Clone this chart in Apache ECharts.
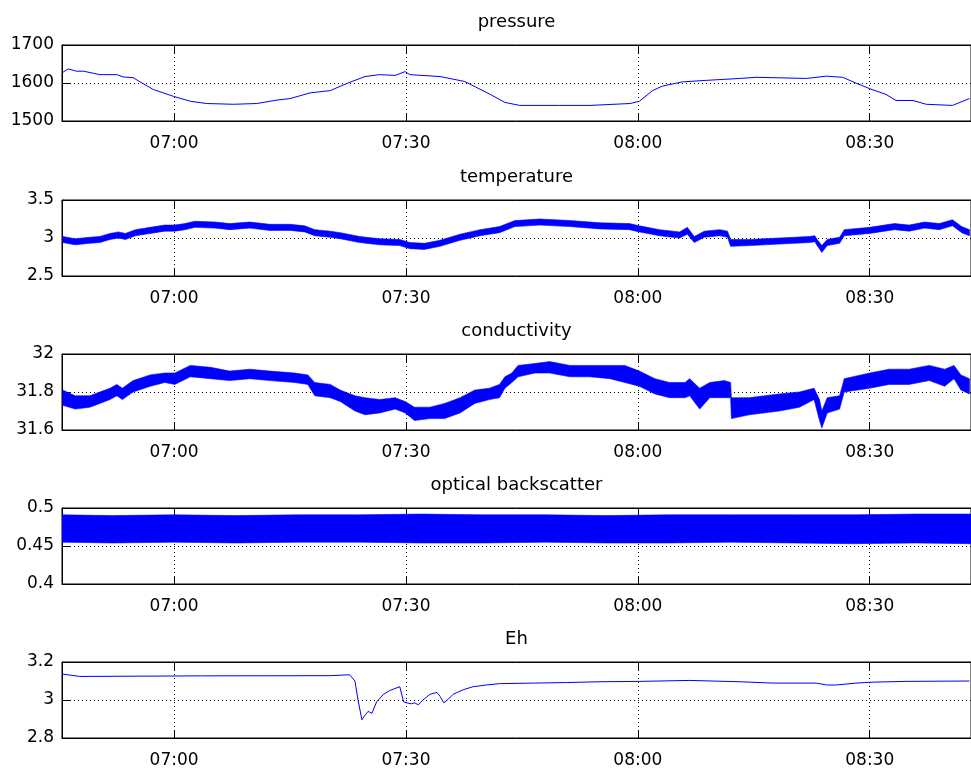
<!DOCTYPE html>
<html><head><meta charset="utf-8">
<script src="https://cdn.jsdelivr.net/npm/echarts@6/dist/echarts.min.js"></script>
<style>html,body{margin:0;padding:0;background:#fff}#c{width:971px;height:772px}</style>
</head><body><div id="c"></div>
<script>
// ---- data (time in minutes since midnight) ----
const xTickLabels = ['07:00', '07:30', '08:00', '08:30'];
const panelTitles = ['pressure', 'temperature', 'conductivity', 'optical backscatter', 'Eh'];

const pressureTime = [405.6, 406.3, 407.4, 408.3, 410.4, 412.6, 413.4, 414.7, 415.6, 417.3, 419.9, 422.1, 424.2, 427.7, 430.7, 433.3, 435.0, 437.6, 440.2, 442.5, 444.7, 446.6, 448.6, 449.9, 450.5, 454.4, 457.6, 460.9, 462.8, 464.7, 469.9, 473.8, 479.0, 480.2, 481.9, 483.2, 485.8, 488.9, 493.2, 495.3, 501.8, 504.4, 506.5, 508.2, 510.0, 512.1, 513.4, 515.6, 517.3, 520.7, 522.9];
const pressure = [1628, 1637, 1631, 1631, 1622, 1622, 1616, 1614, 1603, 1583, 1565, 1552, 1546, 1544, 1546, 1555, 1559, 1574, 1580, 1600, 1617, 1622, 1620, 1630, 1622, 1617, 1604, 1570, 1549, 1541, 1541, 1541, 1546, 1552, 1580, 1592, 1603, 1607, 1612, 1615, 1612, 1618, 1615, 1600, 1585, 1570, 1554, 1554, 1544, 1541, 1559];

const tempTime = [405.6, 407.2, 409.1, 410.4, 411.7, 412.8, 413.7, 415.0, 416.9, 418.8, 420.1, 421.4, 422.7, 425.3, 427.2, 429.8, 432.4, 435.0, 436.9, 438.2, 440.2, 441.5, 444.0, 446.6, 449.2, 450.5, 452.4, 454.4, 457.0, 459.6, 462.1, 464.1, 467.3, 471.2, 475.1, 478.9, 480.2, 482.8, 485.4, 486.4, 487.3, 488.6, 490.6, 491.6, 492.0, 494.5, 498.3, 502.2, 502.9, 503.2, 503.8, 504.5, 506.1, 506.7, 510.0, 513.2, 515.1, 517.1, 519.0, 520.7, 521.9, 522.9];
const tempHigh = [3.02, 2.99, 3.01, 3.02, 3.06, 3.08, 3.06, 3.11, 3.14, 3.17, 3.17, 3.19, 3.22, 3.21, 3.19, 3.21, 3.18, 3.18, 3.16, 3.11, 3.09, 3.07, 3.02, 2.99, 2.98, 2.94, 2.93, 2.97, 3.05, 3.11, 3.15, 3.23, 3.25, 3.23, 3.20, 3.19, 3.16, 3.11, 3.08, 3.14, 3.02, 3.09, 3.11, 3.09, 2.98, 2.98, 3.00, 3.02, 3.03, 2.98, 2.90, 2.98, 3.01, 3.11, 3.14, 3.19, 3.17, 3.21, 3.19, 3.24, 3.15, 3.11];
const tempLow = [2.94, 2.91, 2.93, 2.94, 2.98, 3.00, 2.98, 3.03, 3.06, 3.09, 3.09, 3.11, 3.14, 3.13, 3.11, 3.13, 3.10, 3.10, 3.08, 3.03, 3.01, 2.99, 2.94, 2.91, 2.90, 2.86, 2.85, 2.89, 2.97, 3.03, 3.07, 3.15, 3.17, 3.15, 3.12, 3.11, 3.08, 3.03, 3.00, 3.05, 2.94, 3.01, 3.03, 3.01, 2.89, 2.90, 2.92, 2.94, 2.95, 2.90, 2.81, 2.90, 2.93, 3.03, 3.06, 3.11, 3.09, 3.13, 3.11, 3.16, 3.07, 3.03];

const condTime = [405.6, 407.2, 409.1, 410.4, 411.7, 412.6, 413.3, 414.7, 416.9, 418.8, 420.1, 422.1, 424.7, 427.2, 429.8, 432.4, 435.6, 437.3, 438.2, 440.2, 441.5, 443.4, 444.7, 446.6, 448.6, 449.9, 451.1, 453.1, 455.0, 457.0, 458.9, 460.8, 462.1, 462.8, 463.7, 464.5, 466.7, 468.6, 471.2, 473.8, 476.4, 478.3, 480.2, 482.2, 484.1, 486.1, 486.7, 488.0, 489.3, 491.2, 492.0, 492.1, 494.4, 498.3, 500.9, 502.8, 503.5, 503.8, 504.5, 506.1, 506.7, 510.0, 512.5, 515.1, 517.7, 519.7, 520.9, 521.8, 522.9];
const condHigh = [31.81, 31.78, 31.78, 31.80, 31.82, 31.84, 31.82, 31.86, 31.89, 31.90, 31.90, 31.94, 31.93, 31.91, 31.92, 31.91, 31.90, 31.89, 31.85, 31.84, 31.81, 31.78, 31.77, 31.76, 31.77, 31.75, 31.72, 31.72, 31.74, 31.77, 31.81, 31.82, 31.84, 31.88, 31.90, 31.94, 31.95, 31.96, 31.94, 31.94, 31.94, 31.94, 31.91, 31.87, 31.85, 31.85, 31.87, 31.82, 31.85, 31.86, 31.85, 31.77, 31.77, 31.79, 31.80, 31.82, 31.76, 31.70, 31.77, 31.78, 31.87, 31.90, 31.92, 31.92, 31.94, 31.92, 31.94, 31.89, 31.87];
const condLow = [31.73, 31.71, 31.72, 31.74, 31.76, 31.78, 31.76, 31.80, 31.83, 31.85, 31.84, 31.88, 31.87, 31.86, 31.87, 31.86, 31.85, 31.84, 31.78, 31.77, 31.75, 31.70, 31.68, 31.69, 31.71, 31.69, 31.65, 31.66, 31.66, 31.69, 31.74, 31.76, 31.77, 31.82, 31.85, 31.88, 31.90, 31.90, 31.88, 31.88, 31.87, 31.85, 31.83, 31.79, 31.77, 31.77, 31.78, 31.71, 31.77, 31.77, 31.77, 31.66, 31.68, 31.70, 31.72, 31.76, 31.65, 31.61, 31.69, 31.71, 31.80, 31.82, 31.84, 31.84, 31.86, 31.83, 31.87, 31.81, 31.79];

const bsTime = [405.5, 412, 420, 428, 436, 444, 452, 460, 468, 476, 484, 492, 500, 508, 516, 523.1];
const bsHigh = [0.491, 0.490, 0.491, 0.490, 0.491, 0.491, 0.492, 0.491, 0.491, 0.490, 0.491, 0.491, 0.491, 0.491, 0.492, 0.492];
const bsLow = [0.455, 0.454, 0.455, 0.454, 0.455, 0.455, 0.454, 0.454, 0.455, 0.454, 0.454, 0.455, 0.454, 0.453, 0.454, 0.453];

const ehTime = [405.5, 407.8, 423.4, 440.2, 442.7, 443.4, 443.8, 444.3, 444.7, 445.1, 445.6, 446.2, 447.1, 447.9, 449.2, 449.4, 449.7, 450.1, 450.7, 451.1, 451.6, 452.2, 453.1, 454.0, 454.4, 454.9, 455.5, 456.1, 457.4, 458.7, 460.4, 462.1, 466.4, 470.8, 475.1, 480.2, 486.7, 493.2, 497.5, 503.1, 504.4, 505.7, 508.2, 510.4, 514.7, 522.9];
const eh = [3.137, 3.124, 3.127, 3.128, 3.133, 3.10, 3.00, 2.896, 2.92, 2.94, 2.93, 2.99, 3.03, 3.05, 3.07, 3.07, 2.99, 2.985, 2.98, 2.985, 2.975, 3.00, 3.03, 3.04, 3.02, 2.985, 3.005, 3.03, 3.054, 3.07, 3.079, 3.086, 3.089, 3.092, 3.096, 3.098, 3.103, 3.096, 3.089, 3.089, 3.079, 3.079, 3.089, 3.094, 3.098, 3.10];

const yRanges = [[1500, 1700, 100], [2.5, 3.5, 0.5], [31.6, 32, 0.2], [0.4, 0.5, 0.05], [2.8, 3.2, 0.2]];
const xMin = 405.5, xMax = 523.1;

// ---- layout ----
const gridTops = [45, 200, 354, 508, 662];
const gridH = 76, gridLeft = 62, gridW = 910;
const FONT = 'DejaVu Sans';
const FS = 17, TFS = 18;
const BLUE = '#0000ff';

const toMin = s => { const p = s.split(':'); return +p[0] * 60 + +p[1]; };
const tickVals = xTickLabels.map(toMin);
const fmt = m => { const h = Math.floor(m / 60), mm = Math.round(m - h * 60); return String(h).padStart(2, '0') + ':' + String(mm).padStart(2, '0'); };
const dotted = { color: '#000', width: 1, type: [1, 3] };

const grid = [], xAxis = [], yAxis = [], series = [], graphic = [];
gridTops.forEach((top, i) => {
  grid.push({ left: gridLeft, top: top, width: gridW, height: gridH, show: true, borderColor: '#000', borderWidth: 1, backgroundColor: '#fff', containLabel: false });
  xAxis.push({
    type: 'value', gridIndex: i, min: xMin, max: xMax, position: 'bottom',
    axisLine: { show: true, onZero: false, lineStyle: { color: '#000', width: 1 } },
    axisTick: { show: true, inside: true, length: 8, customValues: tickVals, lineStyle: { color: '#000' } },
    axisLabel: { show: true, customValues: tickVals, formatter: v => fmt(v), color: '#000', fontFamily: FONT, fontSize: FS, margin: 14 },
    splitLine: { show: true, lineStyle: dotted }
  });
  xAxis.push({
    type: 'value', gridIndex: i, min: xMin, max: xMax, position: 'top',
    axisLine: { show: true, onZero: false, lineStyle: { color: '#000', width: 1 } },
    axisTick: { show: true, inside: true, length: 8, customValues: tickVals, lineStyle: { color: '#000' } },
    axisLabel: { show: false }, splitLine: { show: false }
  });
  const r = yRanges[i];
  yAxis.push({
    type: 'value', gridIndex: i, min: r[0], max: r[1], interval: r[2],
    axisLine: { show: true, onZero: false, lineStyle: { color: '#000', width: 1 } },
    axisTick: { show: true, inside: true, length: 8, lineStyle: { color: '#000' } },
    axisLabel: { color: '#000', fontFamily: FONT, fontSize: FS, margin: 8, formatter: v => String(+(+v).toFixed(4)) },
    splitLine: { show: true, lineStyle: dotted }
  });
  graphic.push({ type: 'text', x: gridLeft + 909 / 2, y: top - 23, silent: true,
    style: { text: panelTitles[i], fill: '#000', font: TFS + 'px "' + FONT + '"', textAlign: 'center', textVerticalAlign: 'middle' } });
});

const pairs = (t, v) => t.map((x, k) => [x, v[k]]);
function line(t, v, gi) {
  return { type: 'line', xAxisIndex: gi * 2, yAxisIndex: gi, data: pairs(t, v), symbol: 'none', silent: true,
    lineStyle: { color: BLUE, width: 1 }, z: 3 };
}
// band between low and high envelopes, drawn as one polygon through the axes' scales
function band(t, lo, hi, gi) {
  return {
    type: 'custom', xAxisIndex: gi * 2, yAxisIndex: gi, silent: true, clip: true, z: 3,
    data: t.map((x, k) => [x, lo[k], hi[k]]),
    encode: { x: 0, y: [1, 2] },
    renderItem: (params, api) => {
      if (params.dataIndex !== 0) return null;
      const pts = [];
      for (let k = 0; k < t.length; k++) pts.push(api.coord([t[k], lo[k]]));
      for (let k = t.length - 1; k >= 0; k--) pts.push(api.coord([t[k], hi[k]]));
      return { type: 'polygon', shape: { points: pts }, style: { fill: BLUE, stroke: BLUE, lineWidth: 0.6 } };
    }
  };
}
series.push(line(pressureTime, pressure, 0));
series.push(band(tempTime, tempLow, tempHigh, 1));
series.push(band(condTime, condLow, condHigh, 2));
series.push(band(bsTime, bsLow, bsHigh, 3));
series.push(line(ehTime, eh, 4));

const chart = echarts.init(document.getElementById('c'), null, { renderer: 'canvas' });
chart.setOption({ animation: false, backgroundColor: '#fff', grid, xAxis, yAxis, series, graphic });
</script>
</body></html>
